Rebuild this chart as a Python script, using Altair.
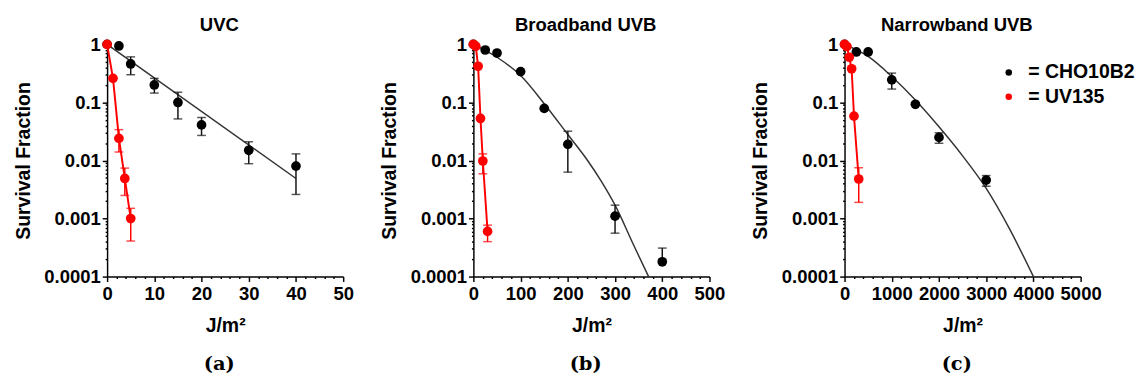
import altair as alt
import pandas as pd

FONT = "Liberation Sans"

# ---------------- Panel (a) UVC ----------------
a_cho_dose = [0, 2.5, 5, 10, 15, 20, 30, 40]
a_cho_sf = [1, 0.94, 0.46, 0.20, 0.10, 0.041, 0.015, 0.008]
a_cho_lo = [None, None, 0.30, 0.145, 0.052, 0.027, 0.0088, 0.0026]
a_cho_hi = [None, None, 0.61, 0.26, 0.15, 0.055, 0.021, 0.013]
a_uv_dose = [0, 1.25, 2.5, 3.75, 5]
a_uv_sf = [1, 0.26, 0.024, 0.0049, 0.001]
a_uv_lo = [None, None, 0.014, 0.0025, 0.00041]
a_uv_hi = [None, None, 0.034, 0.0074, 0.0015]
a_fit_dose = [0, 40]
a_fit_sf = [1, 0.0049]

# ---------------- Panel (b) Broadband UVB ----------------
b_cho_dose = [0, 25, 50, 100, 150, 200, 300, 400]
b_cho_sf = [1, 0.80, 0.71, 0.34, 0.079, 0.019, 0.0011, 0.00018]
b_cho_lo = [None, None, None, None, None, 0.0063, 0.00056, 0.00018]
b_cho_hi = [None, None, None, None, None, 0.032, 0.0017, 0.00031]
b_uv_dose = [0, 5, 10, 15, 20, 30]
b_uv_sf = [1, 0.93, 0.42, 0.053, 0.0098, 0.0006]
b_uv_lo = [None, None, None, None, 0.0059, 0.0004]
b_uv_hi = [None, None, None, None, 0.013, 0.00077]
b_fit_dose = [0, 50, 100, 150, 200, 240, 270, 300, 340, 371]
b_fit_sf = [1, 0.60, 0.29, 0.095, 0.028, 0.0105, 0.0045, 0.0017, 0.00034, 0.0001]

# ---------------- Panel (c) Narrowband UVB ----------------
c_cho_dose = [0, 250, 500, 1000, 1500, 2000, 3000]
c_cho_sf = [1, 0.74, 0.74, 0.245, 0.093, 0.025, 0.0046]
c_cho_lo = [None, None, None, 0.17, None, 0.0198, 0.0036]
c_cho_hi = [None, None, None, 0.32, None, 0.030, 0.0055]
c_uv_dose = [0, 50, 100, 150, 200, 300]
c_uv_sf = [1, 0.92, 0.60, 0.38, 0.058, 0.0048]
c_uv_lo = [None, None, None, None, None, 0.0019]
c_uv_hi = [None, None, None, None, None, 0.0075]
c_fit_dose = [0, 500, 1000, 1500, 2000, 2500, 3000, 3500, 4000]
c_fit_sf = [1, 0.62, 0.28, 0.11, 0.038, 0.012, 0.0033, 0.00065, 0.0001]

CELLS = ["CHO10B2", "UV135"]
COLORS = ["#000000", "#ff0000"]

W, H = 243, 239

y_vals = [1] + [round(k * 10.0 ** e, 8) for e in range(-4, 0) for k in range(1, 10)]
y_major_test = "indexof([1,0.1,0.01,0.001,0.0001], datum.value) >= 0"


def panel(title, letter, xmax, step, cho, uv, fit, show_legend):
    pts = pd.DataFrame({
        "dose": cho[0] + uv[0],
        "sf": cho[1] + uv[1],
        "cell": ["CHO10B2"] * len(cho[0]) + ["UV135"] * len(uv[0]),
    })
    err_rows = []
    for cell, s in (("CHO10B2", cho), ("UV135", uv)):
        for d, lo, hi in zip(s[0], s[2], s[3]):
            if lo is not None:
                err_rows.append({"dose": d, "lo": lo, "hi": hi, "cell": cell})
    err = pd.DataFrame(err_rows)
    red = pd.DataFrame({"dose": uv[0], "sf": uv[1]})
    fitdf = pd.DataFrame({"dose": fit[0], "sf": fit[1]})

    minor = step // 5
    x_vals = list(range(0, xmax + 1, minor))
    xaxis = alt.Axis(
        values=x_vals, format="d", title="J/m²",
        labelExpr=f"datum.value % {step} == 0 ? datum.label : ''",
        tickSize={"condition": {"test": f"datum.value % {step} == 0", "value": 5}, "value": 2},
        labelOverlap=False, labelFlush=False, titlePadding=13, labelPadding=4,
    )
    yaxis = alt.Axis(
        values=y_vals, format=".4~f", title="Survival Fraction",
        labelExpr=f"{y_major_test} ? datum.label : ''",
        tickSize={"condition": {"test": y_major_test, "value": 5}, "value": 2},
        labelOverlap=False, labelFlush=False, titlePadding=11, labelPadding=2,
    )
    xs = alt.Scale(domain=[0, xmax], nice=False)
    ys = alt.Scale(type="log", domain=[0.0001, 1], nice=False)
    X = alt.X("dose:Q", scale=xs, axis=xaxis)

    def Y(f):
        return alt.Y(f + ":Q", scale=ys, axis=yaxis)

    errcolor = alt.condition("datum.cell == 'UV135'", alt.value("#ff0000"), alt.value("#111111"))

    fit_line = alt.Chart(fitdf).mark_line(color="#333333", strokeWidth=1.5, interpolate="monotone").encode(x=X, y=Y("sf"))
    red_line = alt.Chart(red).mark_line(color="#ff0000", strokeWidth=2).encode(x=X, y=Y("sf"))
    rule = alt.Chart(err).mark_rule(strokeWidth=1.5).encode(x=X, y=Y("lo"), y2="hi:Q", color=errcolor)
    tlo = alt.Chart(err).mark_tick(orient="horizontal", size=9, thickness=1.5).encode(x=X, y=Y("lo"), color=errcolor)
    thi = alt.Chart(err).mark_tick(orient="horizontal", size=9, thickness=1.5).encode(x=X, y=Y("hi"), color=errcolor)

    if show_legend:
        leg = alt.Legend(
            title=None, orient="none", legendX=159, legendY=19,
            labelExpr="'= ' + datum.label", labelFont=FONT, labelFontSize=20,
            labelFontWeight="bold", labelColor="black", symbolSize=45, symbolType="circle",
            rowPadding=5, labelOffset=10, padding=0, symbolStrokeWidth=0,
        )
    else:
        leg = None
    points = alt.Chart(pts).mark_point(filled=True, size=100, opacity=1).encode(
        x=X, y=Y("sf"),
        color=alt.Color("cell:N", scale=alt.Scale(domain=CELLS, range=COLORS), legend=leg),
    )
    lab = alt.Chart(pd.DataFrame({"lab": [letter]})).mark_text(
        font="DejaVu Serif", fontSize=20, fontWeight="bold", color="black"
    ).encode(text="lab:N", x=alt.value(W / 2 - 6), y=alt.value(H + 90))

    return alt.layer(fit_line, red_line, rule, tlo, thi, points, lab).properties(
        width=W, height=H,
        title=alt.TitleParams(title, font=FONT, fontSize=19, fontWeight="bold",
                              color="black", frame="group", dx=-6, offset=1),
    )


pa = panel("UVC", "(a)", 50, 10,
           (a_cho_dose, a_cho_sf, a_cho_lo, a_cho_hi),
           (a_uv_dose, a_uv_sf, a_uv_lo, a_uv_hi),
           (a_fit_dose, a_fit_sf), False)
pb = panel("Broadband UVB", "(b)", 500, 100,
           (b_cho_dose, b_cho_sf, b_cho_lo, b_cho_hi),
           (b_uv_dose, b_uv_sf, b_uv_lo, b_uv_hi),
           (b_fit_dose, b_fit_sf), False)
pc = panel("Narrowband UVB", "(c)", 5000, 1000,
           (c_cho_dose, c_cho_sf, c_cho_lo, c_cho_hi),
           (c_uv_dose, c_uv_sf, c_uv_lo, c_uv_hi),
           (c_fit_dose, c_fit_sf), True)

chart = alt.hconcat(pa, pb, pc, spacing=26).resolve_scale(color="independent").resolve_legend(
    color="independent"
).configure_axis(
    labelFont=FONT, labelFontSize=19, labelFontWeight="bold", labelColor="black",
    titleFont=FONT, titleFontSize=20, titleFontWeight="bold", titleColor="black",
    domainColor="black", domainWidth=1.5, tickColor="black", tickWidth=1.5, grid=False,
).configure_view(stroke=None).properties(
    background="white", padding={"top": 3, "left": 5, "right": 2, "bottom": 2}
)

chart.save("out.html", embed_options={"renderer": "svg", "actions": False})
